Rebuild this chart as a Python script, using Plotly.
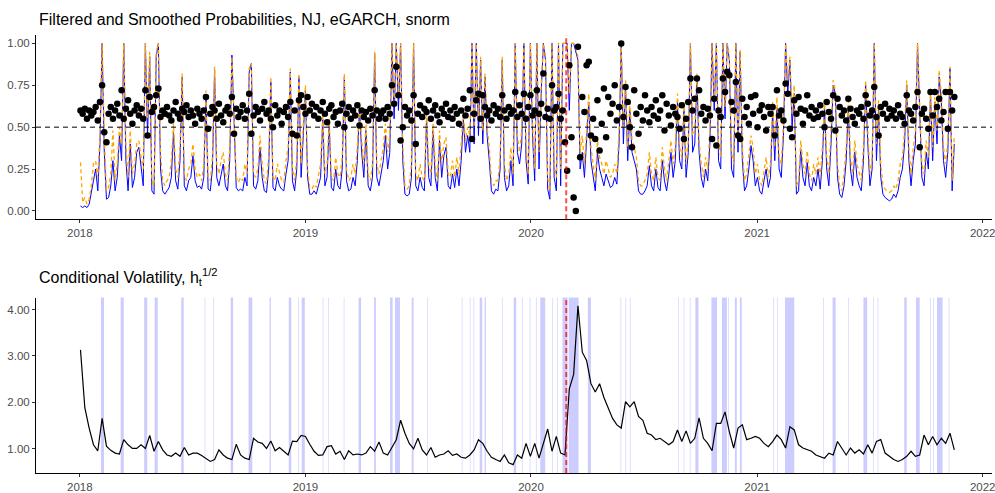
import pandas as pd
import plotly.graph_objects as go

# ---------------- data ----------------
prob_start = "2018-01-02"   # first observation
vol_start = "2018-01-02"
event_date = "2020-02-27"   # red dashed marker

# filtered probabilities (every 3.5 days)
filtered = [
    0.03, 0.02, 0.03, 0.02, 0.04, 0.10, 0.18, 0.25, 0.12, 0.40, 1.00, 0.35, 0.07, 0.08, 0.15, 0.30, 0.12, 0.20, 0.45, 0.30,
    1.00, 0.30, 0.12, 0.40, 0.14, 0.20, 0.35, 0.38, 0.25, 0.15, 1.00, 0.45, 0.92, 0.12, 0.10, 0.92, 1.00, 0.25, 0.12, 0.10,
    0.12, 0.14, 0.20, 0.47, 0.18, 0.13, 0.30, 0.80, 0.15, 0.12, 0.18, 0.20, 0.33, 0.18, 0.14, 0.15, 0.13, 0.20, 0.69, 0.13,
    0.12, 0.25, 0.84, 0.20, 0.15, 0.22, 0.28, 0.15, 0.12, 0.30, 0.93, 0.55, 0.14, 0.12, 0.13, 0.12, 0.20, 0.15, 0.83, 0.88,
    0.15, 0.13, 0.18, 0.38, 0.20, 0.12, 0.11, 0.25, 0.77, 0.14, 0.12, 0.20, 0.15, 0.13, 0.12, 0.22, 0.30, 0.83, 0.18, 0.12,
    0.25, 0.80, 0.20, 0.45, 0.72, 0.20, 0.10, 0.10, 0.12, 0.10, 0.15, 0.20, 0.55, 0.15, 0.20, 0.52, 0.14, 0.12, 0.25, 0.15,
    0.13, 0.25, 0.80, 0.18, 0.12, 0.13, 0.20, 0.15, 0.30, 0.62, 0.35, 0.20, 0.48, 0.15, 0.12, 0.20, 0.94, 0.20, 0.15, 0.22,
    0.30, 0.45, 0.25, 0.35, 1.00, 0.55, 1.00, 0.60, 1.00, 0.30, 0.10, 0.09, 0.10, 0.20, 1.00, 0.15, 0.12, 0.20, 0.14, 0.12,
    0.55, 0.20, 0.15, 0.48, 0.20, 0.12, 0.42, 0.20, 0.33, 0.38, 0.15, 0.13, 0.22, 0.14, 0.25, 0.15, 0.30, 0.55, 0.35, 0.45,
    0.35, 1.00, 0.40, 1.00, 0.45, 0.90, 0.40, 0.80, 0.45, 0.30, 0.12, 0.10, 0.13, 0.12, 0.25, 0.90, 0.20, 0.12, 0.15, 0.30,
    0.15, 1.00, 0.35, 0.28, 0.40, 1.00, 0.30, 0.16, 1.00, 0.45, 0.18, 1.00, 0.25, 0.70, 1.00, 0.90, 0.13, 0.07, 1.00, 0.20,
    0.12, 1.00, 0.15, 1.00, 1.00, 1.00, 0.60, 1.00, 1.00, 0.95, 0.90, 0.25, 0.35, 0.20, 0.40, 0.65, 0.30, 0.20, 0.12, 0.35,
    0.25, 0.20, 0.15, 0.22, 0.18, 0.14, 0.15, 0.20, 0.16, 0.40, 1.00, 0.40, 0.75, 0.30, 0.60, 0.35, 0.30, 0.25, 0.12, 0.10,
    0.10, 0.12, 0.15, 0.27, 0.15, 0.12, 0.25, 0.14, 0.12, 0.30, 0.18, 0.12, 0.22, 0.35, 0.20, 0.30, 0.65, 0.30, 0.25, 0.60,
    0.20, 0.35, 1.00, 0.35, 0.40, 0.80, 0.35, 0.20, 0.14, 0.25, 0.18, 0.40, 1.00, 0.60, 1.00, 0.30, 0.25, 1.00, 0.55, 1.00,
    0.90, 0.25, 0.20, 1.00, 0.35, 0.95, 0.30, 0.12, 0.15, 0.25, 0.39, 0.30, 0.15, 0.20, 0.12, 0.10, 0.18, 0.25, 0.14, 0.20,
    0.60, 0.30, 0.62, 0.25, 0.20, 0.45, 1.00, 0.70, 0.90, 0.50, 0.70, 0.10, 0.12, 0.37, 0.20, 0.15, 0.29, 0.15, 0.12, 0.20,
    0.15, 0.25, 0.13, 0.30, 0.62, 0.25, 0.15, 0.40, 0.75, 0.70, 0.20, 0.10, 0.08, 0.15, 0.30, 0.62, 0.25, 0.15, 0.35, 0.20,
    0.15, 0.12, 0.30, 0.75, 0.40, 0.15, 0.25, 1.00, 0.30, 0.62, 0.20, 0.10, 0.08, 0.07, 0.06, 0.07, 0.10, 0.08, 0.12, 0.20,
    0.25, 0.40, 0.75, 0.30, 0.15, 0.30, 0.40, 1.00, 0.60, 0.20, 0.15, 0.35, 0.25, 0.70, 0.30, 0.65, 0.40, 0.80, 0.65, 0.30,
    0.20, 0.35, 0.85, 0.12, 0.40,
]

# smoothed probabilities (every 3.5 days)
smoothed = [
    0.29, 0.05, 0.08, 0.04, 0.07, 0.15, 0.28, 0.30, 0.20, 0.45, 1.00, 0.45, 0.12, 0.14, 0.22, 0.48, 0.18, 0.28, 0.50, 0.40,
    1.00, 0.40, 0.20, 0.48, 0.22, 0.28, 0.40, 0.42, 0.32, 0.25, 1.00, 0.55, 0.95, 0.18, 0.15, 0.95, 1.00, 0.35, 0.18, 0.15,
    0.18, 0.20, 0.30, 0.52, 0.25, 0.20, 0.38, 0.82, 0.22, 0.18, 0.25, 0.28, 0.40, 0.25, 0.20, 0.22, 0.18, 0.28, 0.72, 0.20,
    0.18, 0.32, 0.86, 0.28, 0.22, 0.30, 0.35, 0.22, 0.18, 0.38, 0.92, 0.60, 0.20, 0.17, 0.20, 0.18, 0.28, 0.22, 0.85, 0.88,
    0.22, 0.20, 0.25, 0.45, 0.28, 0.18, 0.16, 0.32, 0.80, 0.20, 0.18, 0.28, 0.22, 0.18, 0.17, 0.30, 0.38, 0.85, 0.25, 0.18,
    0.32, 0.82, 0.28, 0.50, 0.75, 0.25, 0.14, 0.13, 0.16, 0.14, 0.22, 0.28, 0.58, 0.22, 0.28, 0.55, 0.20, 0.18, 0.32, 0.22,
    0.20, 0.32, 0.82, 0.25, 0.18, 0.20, 0.28, 0.22, 0.38, 0.65, 0.42, 0.28, 0.52, 0.22, 0.18, 0.28, 0.95, 0.28, 0.22, 0.30,
    0.38, 0.52, 0.35, 0.45, 1.00, 0.65, 1.00, 0.70, 1.00, 0.40, 0.15, 0.13, 0.15, 0.28, 1.00, 0.22, 0.18, 0.28, 0.20, 0.18,
    0.58, 0.28, 0.22, 0.52, 0.28, 0.18, 0.48, 0.28, 0.40, 0.44, 0.22, 0.20, 0.30, 0.20, 0.32, 0.22, 0.38, 0.58, 0.42, 0.50,
    0.45, 1.00, 0.50, 1.00, 0.55, 0.92, 0.48, 0.82, 0.50, 0.38, 0.18, 0.15, 0.18, 0.18, 0.32, 0.92, 0.28, 0.18, 0.22, 0.38,
    0.22, 1.00, 0.45, 0.35, 0.48, 1.00, 0.40, 0.22, 1.00, 0.52, 0.25, 1.00, 0.35, 0.75, 1.00, 0.92, 0.20, 0.12, 1.00, 0.28,
    0.20, 1.00, 0.25, 1.00, 1.00, 1.00, 0.70, 1.00, 1.00, 0.97, 0.92, 0.35, 0.45, 0.28, 0.48, 0.70, 0.38, 0.28, 0.18, 0.42,
    0.32, 0.28, 0.22, 0.30, 0.25, 0.20, 0.22, 0.28, 0.22, 0.48, 1.00, 0.50, 0.78, 0.38, 0.65, 0.42, 0.38, 0.32, 0.18, 0.15,
    0.15, 0.18, 0.22, 0.35, 0.22, 0.18, 0.32, 0.20, 0.18, 0.38, 0.25, 0.18, 0.30, 0.42, 0.28, 0.38, 0.70, 0.38, 0.32, 0.65,
    0.28, 0.42, 1.00, 0.45, 0.48, 0.82, 0.42, 0.28, 0.20, 0.32, 0.25, 0.48, 1.00, 0.68, 1.00, 0.40, 0.32, 1.00, 0.62, 1.00,
    0.92, 0.35, 0.28, 1.00, 0.45, 0.96, 0.38, 0.18, 0.22, 0.32, 0.45, 0.38, 0.22, 0.28, 0.18, 0.15, 0.25, 0.32, 0.20, 0.28,
    0.65, 0.38, 0.68, 0.32, 0.28, 0.52, 1.00, 0.78, 0.92, 0.58, 0.75, 0.15, 0.18, 0.42, 0.28, 0.22, 0.36, 0.22, 0.18, 0.28,
    0.22, 0.32, 0.20, 0.38, 0.66, 0.32, 0.22, 0.48, 0.78, 0.72, 0.28, 0.15, 0.12, 0.22, 0.38, 0.66, 0.32, 0.22, 0.42, 0.28,
    0.22, 0.18, 0.38, 0.78, 0.48, 0.22, 0.32, 1.00, 0.40, 0.66, 0.28, 0.15, 0.13, 0.12, 0.11, 0.12, 0.15, 0.13, 0.18, 0.28,
    0.32, 0.48, 0.78, 0.38, 0.22, 0.38, 0.48, 1.00, 0.66, 0.28, 0.22, 0.42, 0.32, 0.72, 0.38, 0.68, 0.48, 0.84, 0.70, 0.38,
    0.28, 0.42, 0.86, 0.18, 0.45,
]

# black points (every 3.5 days)
points = [
    0.60, 0.58, 0.61, 0.55, 0.60, 0.57, 0.59, 0.62, 0.54, 0.65, 0.75, 0.47, 0.41, 0.58, 0.62, 0.55, 0.60, 0.64, 0.57, 0.72,
    0.55, 0.61, 0.66, 0.58, 0.52, 0.60, 0.63, 0.57, 0.61, 0.55, 0.72, 0.45, 0.68, 0.59, 0.62, 0.69, 0.73, 0.56, 0.60, 0.58,
    0.62, 0.57, 0.54, 0.60, 0.65, 0.58, 0.55, 0.61, 0.59, 0.63, 0.56, 0.60, 0.57, 0.52, 0.61, 0.58, 0.55, 0.60, 0.68, 0.49,
    0.58, 0.62, 0.60, 0.55, 0.64, 0.57, 0.53, 0.60, 0.62, 0.58, 0.68, 0.46, 0.61, 0.56, 0.59, 0.63, 0.55, 0.60, 0.70, 0.46,
    0.57, 0.62, 0.59, 0.54, 0.61, 0.65, 0.58, 0.60, 0.55, 0.50, 0.63, 0.57, 0.60, 0.52, 0.59, 0.62, 0.56, 0.65, 0.46, 0.60,
    0.45, 0.66, 0.69, 0.62, 0.58, 0.68, 0.60, 0.64, 0.57, 0.62, 0.55, 0.60, 0.65, 0.58, 0.53, 0.61, 0.63, 0.56, 0.59, 0.52,
    0.60, 0.64, 0.50, 0.58, 0.62, 0.55, 0.60, 0.57, 0.63, 0.51, 0.60, 0.56, 0.59, 0.54, 0.61, 0.57, 0.72, 0.60, 0.55, 0.58,
    0.60, 0.55, 0.62, 0.58, 0.75, 0.64, 0.86, 0.69, 0.42, 0.50, 0.62, 0.57, 0.60, 0.54, 0.69, 0.40, 0.58, 0.63, 0.56, 0.61,
    0.59, 0.66, 0.55, 0.60, 0.63, 0.57, 0.53, 0.61, 0.58, 0.64, 0.56, 0.60, 0.55, 0.62, 0.58, 0.52, 0.60, 0.67, 0.57, 0.61,
    0.72, 0.43, 0.58, 0.66, 0.70, 0.55, 0.69, 0.62, 0.57, 0.60, 0.54, 0.63, 0.58, 0.61, 0.56, 0.69, 0.60, 0.55, 0.62, 0.58,
    0.60, 0.71, 0.56, 0.63, 0.58, 0.70, 0.55, 0.62, 0.69, 0.57, 0.60, 0.72, 0.58, 0.64, 0.82, 0.56, 0.61, 0.55, 0.75, 0.60,
    0.62, 0.70, 0.55, 0.60, 0.41, 0.24, 0.87, 0.44, 0.08, 0.00, 0.98, 0.32, 0.68, 0.59, 0.87, 0.89, 0.45, 0.55, 0.43, 0.66,
    0.36, 0.52, 0.73, 0.44, 0.68, 0.58, 0.64, 0.75, 0.54, 0.62, 1.00, 0.56, 0.74, 0.65, 0.50, 0.38, 0.72, 0.58, 0.46, 0.62,
    0.54, 0.69, 0.60, 0.53, 0.62, 0.57, 0.66, 0.55, 0.60, 0.69, 0.48, 0.64, 0.57, 0.51, 0.62, 0.58, 0.56, 0.49, 0.63, 0.43,
    0.55, 0.65, 0.79, 0.60, 0.67, 0.79, 0.72, 0.58, 0.62, 0.54, 0.61, 0.57, 0.43, 0.67, 0.39, 0.60, 0.56, 0.79, 0.71, 0.83,
    0.81, 0.65, 0.60, 0.77, 0.45, 0.43, 0.67, 0.56, 0.62, 0.52, 0.68, 0.58, 0.69, 0.50, 0.60, 0.63, 0.56, 0.48, 0.62, 0.58,
    0.62, 0.45, 0.72, 0.57, 0.60, 0.54, 0.76, 0.70, 0.49, 0.44, 0.66, 0.58, 0.68, 0.61, 0.52, 0.60, 0.69, 0.57, 0.62, 0.55,
    0.60, 0.56, 0.63, 0.58, 0.50, 0.65, 0.59, 0.55, 0.69, 0.48, 0.67, 0.62, 0.57, 0.60, 0.54, 0.67, 0.61, 0.56, 0.52, 0.60,
    0.58, 0.62, 0.55, 0.69, 0.64, 0.57, 0.60, 0.74, 0.56, 0.45, 0.62, 0.58, 0.64, 0.55, 0.61, 0.57, 0.60, 0.55, 0.63, 0.58,
    0.56, 0.52, 0.69, 0.60, 0.58, 0.54, 0.62, 0.71, 0.38, 0.58, 0.61, 0.55, 0.49, 0.71, 0.57, 0.71, 0.62, 0.67, 0.54, 0.59,
    0.71, 0.49, 0.71, 0.60, 0.68,
]

# conditional volatility (weekly)
volatility = [
    3.13, 1.88, 1.44, 1.08, 0.95, 1.65, 1.05, 0.96, 0.90, 0.88, 1.19, 1.08, 1.00,
    1.00, 1.08, 1.00, 1.28, 0.94, 1.15, 0.97, 0.86, 0.83, 0.90, 0.83, 1.02, 0.86,
    0.90, 0.90, 0.85, 0.79, 0.72, 0.76, 0.97, 0.86, 0.79, 0.76, 1.09, 0.86, 0.79,
    0.76, 1.22, 1.14, 1.11, 1.00, 1.16, 0.95, 1.02, 0.94, 0.86, 1.16, 1.15, 1.28,
    1.26, 1.09, 0.94, 0.85, 0.86, 1.04, 1.06, 0.88, 0.94, 0.76, 0.95, 0.86, 0.88,
    0.86, 0.90, 1.04, 0.94, 1.14, 0.90, 0.86, 1.04, 1.19, 1.61, 1.33, 1.11, 0.99,
    1.22, 0.97, 0.86, 1.02, 0.81, 0.86, 0.88, 0.95, 0.85, 0.88, 0.81, 0.79, 0.86,
    0.97, 1.19, 1.11, 0.94, 0.81, 0.76, 0.72, 0.86, 0.69, 0.65, 0.86, 0.79, 1.11,
    0.83, 1.11, 0.79, 1.08, 1.42, 0.94, 1.26, 0.90, 0.86, 2.29, 2.60, 4.08, 3.08,
    2.90, 2.40, 2.22, 2.40, 2.10, 1.86, 1.65, 1.51, 1.44, 2.01, 1.90, 2.01, 1.69,
    1.61, 1.33, 1.29, 1.19, 1.22, 1.14, 1.08, 1.15, 1.40, 1.15, 1.38, 1.11, 1.22,
    1.66, 1.22, 1.11, 0.95, 1.54, 1.54, 1.79, 1.36, 1.01, 1.44, 1.51, 1.19, 1.22,
    1.26, 1.22, 1.11, 1.04, 1.15, 1.29, 1.19, 1.01, 1.47, 1.40, 1.08, 1.01, 0.97,
    0.94, 0.86, 0.83, 0.79, 0.90, 0.86, 1.15, 1.01, 0.86, 1.01, 0.90, 0.97, 0.88,
    1.08, 0.90, 1.15, 1.19, 0.90, 0.83, 0.76, 0.72, 0.76, 0.83, 0.94, 0.83, 0.86,
    1.29, 1.08, 1.26, 1.08, 1.22, 1.11, 1.33, 0.97,
]

# regime periods shaded in the volatility panel
band_start = [
    "2018-02-04", "2018-03-08", "2018-04-15", "2018-05-02", "2018-06-14", "2018-07-22", "2018-08-05",
    "2018-09-02", "2018-10-01", "2018-11-04", "2018-12-05", "2018-12-20", "2018-12-26", "2019-01-29",
    "2019-02-07", "2019-03-04", "2019-03-28", "2019-04-22", "2019-05-18", "2019-05-26", "2019-06-22",
    "2019-07-17", "2019-09-11", "2019-09-24", "2019-09-30", "2019-10-10", "2019-10-18", "2019-11-15",
    "2019-12-04", "2019-12-18", "2019-12-30", "2020-01-09", "2020-01-16", "2020-02-04", "2020-02-12",
    "2020-02-21", "2020-03-02", "2020-04-02", "2020-05-25", "2020-06-02", "2020-06-09", "2020-08-26",
    "2020-09-04", "2020-09-14", "2020-09-23", "2020-10-19", "2020-11-05", "2020-11-15", "2020-11-26",
    "2020-12-04", "2021-01-27", "2021-02-02", "2021-02-15", "2021-04-18", "2021-05-03", "2021-05-28",
    "2021-06-22", "2021-07-08", "2021-07-15", "2021-08-27", "2021-09-15", "2021-10-08", "2021-10-13",
    "2021-10-19", "2021-11-07",
]
band_end = [
    "2018-02-09", "2018-03-13", "2018-04-20", "2018-05-07", "2018-06-18", "2018-07-23", "2018-08-06",
    "2018-09-06", "2018-10-07", "2018-11-06", "2018-12-09", "2018-12-21", "2018-12-31", "2019-01-30",
    "2019-02-08", "2019-03-05", "2019-04-01", "2019-04-25", "2019-05-22", "2019-06-03", "2019-06-25",
    "2019-07-18", "2019-09-12", "2019-09-25", "2019-10-01", "2019-10-14", "2019-10-20", "2019-11-16",
    "2019-12-08", "2019-12-19", "2019-12-31", "2020-01-10", "2020-01-24", "2020-02-05", "2020-02-13",
    "2020-02-29", "2020-03-18", "2020-04-07", "2020-05-26", "2020-06-03", "2020-06-10", "2020-08-27",
    "2020-09-05", "2020-09-15", "2020-09-28", "2020-10-28", "2020-11-13", "2020-11-16", "2020-11-29",
    "2020-12-07", "2021-01-28", "2021-02-03", "2021-03-02", "2021-04-19", "2021-05-08", "2021-05-29",
    "2021-06-28", "2021-07-09", "2021-07-16", "2021-08-31", "2021-09-21", "2021-10-09", "2021-10-14",
    "2021-10-28", "2021-11-08",
]

top_title = "Filtered and Smoothed Probabilities, NJ, eGARCH, snorm"
bottom_title = "Conditional Volatility, h<sub>t</sub><sup>1/2</sup>"

# ---------------- figure ----------------
prob_dates = pd.date_range(prob_start, periods=len(filtered), freq="84h")
smooth_dates = pd.date_range(prob_start, periods=len(smoothed), freq="84h")
point_dates = pd.date_range(prob_start, periods=len(points), freq="84h")
vol_dates = pd.date_range(vol_start, periods=len(volatility), freq="7D")

FONT = "Liberation Sans, Arial, Helvetica, sans-serif"
TICKCOL = "#4D4D4D"
x_range = ["2017-10-22", "2022-01-16"]

fig = go.Figure()
fig.add_trace(go.Scatter(x=prob_dates, y=filtered, mode="lines",
                         line=dict(color="#0000FF", width=1), xaxis="x", yaxis="y"))
fig.add_trace(go.Scatter(x=smooth_dates, y=smoothed, mode="lines",
                         line=dict(color="#FFA500", width=1.3, dash="4px,3px"), xaxis="x", yaxis="y"))
fig.add_trace(go.Scatter(x=point_dates, y=points, mode="markers",
                         marker=dict(color="black", size=6.5, line=dict(width=0)), xaxis="x", yaxis="y"))
fig.add_trace(go.Scatter(x=vol_dates, y=volatility, mode="lines",
                         line=dict(color="black", width=1.2), xaxis="x2", yaxis="y2"))

shapes = []
for s, e in zip(band_start, band_end):
    shapes.append(dict(type="rect", xref="x2", yref="y2 domain", x0=s, x1=e, y0=0, y1=1,
                       fillcolor="rgba(0,0,255,0.2)", line=dict(width=0), layer="below"))
shapes.append(dict(type="line", xref="x domain", yref="y", x0=0, x1=1, y0=0.5, y1=0.5,
                   line=dict(color="black", width=1, dash="5px,4px")))
for xr, yr in (("x", "y domain"), ("x2", "y2 domain")):
    shapes.append(dict(type="line", xref=xr, yref=yr, x0=event_date, x1=event_date, y0=0, y1=1,
                       line=dict(color="rgba(255,0,0,0.7)", width=2, dash="5px,3px")))

axis_common = dict(showline=True, linecolor="black", linewidth=1, ticks="outside", ticklen=3,
                   tickcolor="#333333", tickwidth=1, showgrid=False, zeroline=False,
                   tickfont=dict(family=FONT, size=11.5, color=TICKCOL))
xcommon = dict(axis_common, type="date", range=x_range, tickformat="%Y", dtick="M12",
               tick0="2018-01-01", ticklabeloverflow="allow")

fig.update_layout(
    width=995, height=493,
    margin=dict(l=36, r=0, t=35, b=16),
    paper_bgcolor="white", plot_bgcolor="white",
    showlegend=False,
    font=dict(family=FONT),
    xaxis=dict(xcommon, domain=[0, 1], anchor="y"),
    yaxis=dict(axis_common, domain=[0.5792, 1], anchor="x", range=[-0.05, 1.05],
               tickvals=[0, 0.25, 0.5, 0.75, 1.0], tickformat=".2f"),
    xaxis2=dict(xcommon, domain=[0, 1], anchor="y2"),
    yaxis2=dict(axis_common, domain=[0, 0.4005], anchor="x2", range=[0.47, 4.26],
                tickvals=[1, 2, 3, 4], tickformat=".2f"),
    shapes=shapes,
    annotations=[
        dict(text=top_title, xref="paper", yref="paper", x=0.001, y=1.036, xanchor="left",
             yanchor="middle", showarrow=False, font=dict(family=FONT, size=16, color="black")),
        dict(text=bottom_title, xref="paper", yref="paper", x=0.001, y=0.448, xanchor="left",
             yanchor="middle", showarrow=False, font=dict(family=FONT, size=16, color="black")),
    ],
)

fig.write_html("out.html")
